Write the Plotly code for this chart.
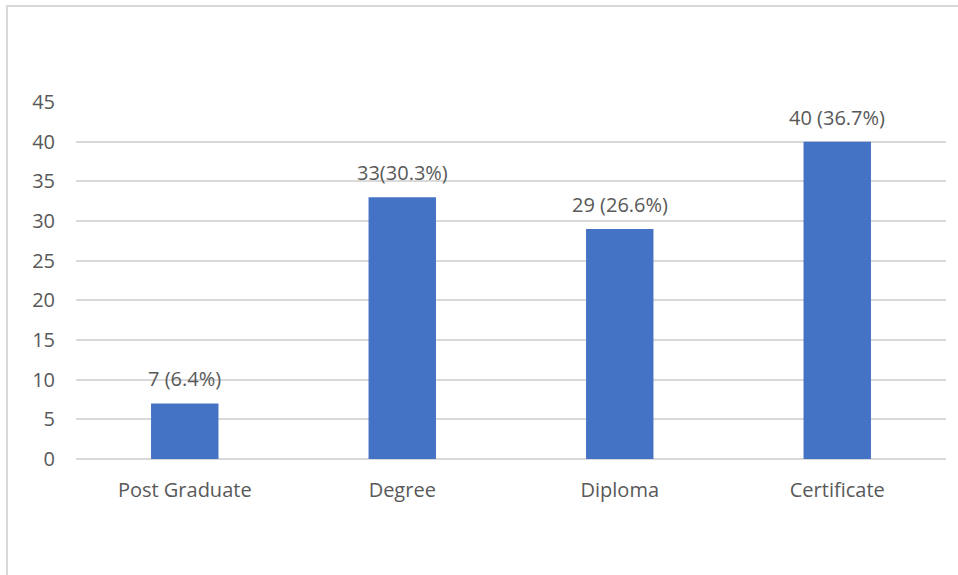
import plotly.graph_objects as go

categories = ["Post Graduate", "Degree", "Diploma", "Certificate"]
values = [7, 33, 29, 40]
labels = ["7 (6.4%)", "33(30.3%)", "29 (26.6%)", "40 (36.7%)"]
y_ticks = [0, 5, 10, 15, 20, 25, 30, 35, 40, 45]

W, H = 958, 575
L, R, T, B = 76, 12, 102, 116
pw, ph = W - L - R, H - T - B

font_c = "#595959"
fam = "Open Sans, Noto Sans, sans-serif"
fs = 20

fig = go.Figure(go.Bar(
    x=categories, y=values,
    marker=dict(color="#4472C4", line=dict(width=0)),
    width=0.31, cliponaxis=False, hoverinfo="x+y",
))

for c, v, t in zip(categories, values, labels):
    fig.add_annotation(x=c, y=v, text=t, showarrow=False, yanchor="bottom",
                       yshift=9, font=dict(size=fs, color=font_c, family=fam))

fig.update_layout(
    width=W, height=H,
    margin=dict(l=L, r=R, t=T, b=B),
    paper_bgcolor="white", plot_bgcolor="white",
    showlegend=False,
    font=dict(family=fam, color=font_c, size=fs),
    xaxis=dict(showgrid=False, showline=False, zeroline=False,
               tickfont=dict(size=fs, color=font_c), ticklabelstandoff=17),
    yaxis=dict(range=[0, 45], tickvals=y_ticks, showgrid=True,
               gridcolor="#d9d9d9", gridwidth=1.5, zeroline=True,
               zerolinecolor="#d9d9d9", zerolinewidth=1.5, showline=False,
               tickfont=dict(size=fs, color=font_c), ticklabelstandoff=20),
)

x0 = (7 - L) / pw
y1 = 1 + (T - 6) / ph
fig.add_shape(type="rect", xref="paper", yref="paper",
              x0=x0, x1=1.2, y0=-1, y1=y1,
              line=dict(color="#d9d9d9", width=2), layer="below")

fig.write_html("out.html", config={"displayModeBar": False},
               post_script="document.body.style.margin='0';document.body.style.overflow='hidden';")
